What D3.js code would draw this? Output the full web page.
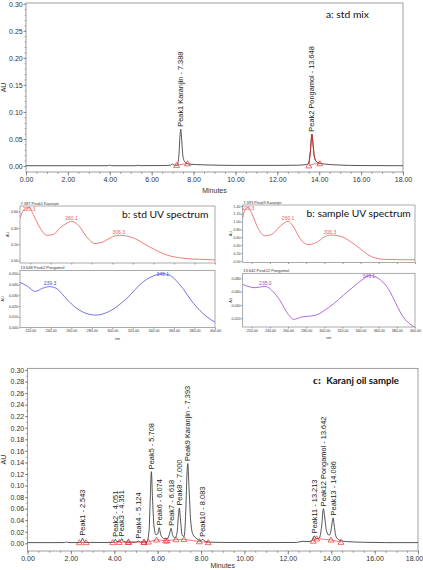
<!DOCTYPE html>
<html>
<head>
<meta charset="utf-8">
<script src="https://cdn.jsdelivr.net/npm/d3@7"></script>
<style>
body { margin: 0; background: #fff; }
svg { display: block; font-family: "Liberation Sans", Arial, sans-serif; }
.axis path, .axis line { stroke: #555; stroke-width: 0.6; }
.axis text { fill: #333; }
</style>
</head>
<body>
<div id="chart"></div>
<script>
// ---------- data ----------
// chromatogram ticks
const chromXTicks = [0, 2, 4, 6, 8, 10, 12, 14, 16, 18];
const stdYTicks = [0, 0.05, 0.10, 0.15, 0.20, 0.25, 0.30];
const sampleYTicks = [0, 0.02, 0.04, 0.06, 0.08, 0.10, 0.12, 0.14, 0.16, 0.18, 0.20, 0.22, 0.24, 0.26, 0.28, 0.30];

// a: std mix trace [minutes, AU]
const stdTrace = [
    [0, 0.0006], [1, 0.0006], [2, 0.0006], [3.9, 0.0006], [4.0, 0.0016], [4.1, 0.0006],
    [5.25, 0.0006], [5.35, 0.0016], [5.45, 0.0007], [6.5, 0.0009], [6.9, 0.0016], [7.0, 0.004],
    [7.08, 0.0016], [7.22, 0.0016], [7.3, 0.02], [7.35, 0.055], [7.39, 0.068], [7.43, 0.05],
    [7.5, 0.016], [7.6, 0.007], [7.8, 0.0035], [8.5, 0.0022], [10, 0.0012], [12, 0.0012],
    [13.0, 0.0016], [13.4, 0.003], [13.5, 0.005], [13.58, 0.028], [13.65, 0.059], [13.7, 0.042],
    [13.76, 0.019], [13.85, 0.009], [14.0, 0.0055], [14.3, 0.0035], [15, 0.0018], [16, 0.0009], [18, 0.0006]
];
const stdPeakNames = ['Peak1 Karanjin', 'Peak2 Pongamol'];
const stdPeakTimes = [7.388, 13.648];
const stdPeakHeights = [0.068, 0.059];
const stdMarks = [[7.19, 0.0016], [7.71, 0.0045], [13.50, 0.0006], [14.03, 0.0045]];
const stdBaselines = [[[7.19, 0.0016], [7.71, 0.0045]], [[13.50, 0.0006], [13.75, 0.004], [14.03, 0.0045]]];
const stdRedWindow = [13.45, 14.05];

// c: Karanj oil sample trace [minutes, AU]
const sampleTrace = [
    [0, 0.0012], [1.0, 0.0012], [1.7, 0.0013], [1.8, 0.0022], [1.9, 0.0013],
    [2.4, 0.0013], [2.48, 0.004], [2.54, 0.009], [2.6, 0.004], [2.7, 0.0015],
    [3.9, 0.0015], [4.0, 0.004], [4.05, 0.007], [4.12, 0.003], [4.28, 0.004], [4.35, 0.008], [4.42, 0.003], [4.6, 0.002],
    [5.0, 0.002], [5.12, 0.004], [5.22, 0.002],
    [5.5, 0.0025], [5.6, 0.02], [5.66, 0.08], [5.71, 0.124], [5.76, 0.08], [5.83, 0.03], [5.92, 0.015],
    [6.0, 0.016], [6.07, 0.027], [6.14, 0.015], [6.3, 0.008], [6.45, 0.008],
    [6.55, 0.017], [6.62, 0.026], [6.69, 0.014], [6.8, 0.009], [6.9, 0.02], [6.95, 0.045], [7.0, 0.061],
    [7.05, 0.042], [7.13, 0.014], [7.22, 0.012],
    [7.3, 0.06], [7.35, 0.12], [7.39, 0.138], [7.44, 0.10], [7.52, 0.04], [7.62, 0.016], [7.8, 0.008],
    [8.0, 0.005], [8.08, 0.007], [8.16, 0.004], [8.4, 0.002],
    [9.0, 0.0015], [11.0, 0.0013], [12.4, 0.0015], [12.6, 0.003], [12.7, 0.0035], [12.85, 0.003],
    [13.1, 0.004], [13.21, 0.013], [13.3, 0.008], [13.45, 0.009], [13.56, 0.03], [13.64, 0.06],
    [13.7, 0.045], [13.78, 0.022], [13.9, 0.014], [13.98, 0.02], [14.05, 0.038], [14.09, 0.044],
    [14.14, 0.03], [14.22, 0.012], [14.4, 0.005], [14.7, 0.003], [15.5, 0.0018], [16.5, 0.0012], [18, 0.0012]
];
const samplePeakNames = ['Peak1', 'Peak2', 'Peak3', 'Peak4', 'Peak5', 'Peak6', 'Peak7', 'Peak8',
    'Peak9 Karanjin', 'Peak10', 'Peak11', 'Peak12 Pongamol', 'Peak13'];
const samplePeakTimes = [2.543, 4.051, 4.351, 5.124, 5.708, 6.074, 6.618, 7.000, 7.393, 8.083, 13.213, 13.642, 14.086];
const samplePeakHeights = [0.009, 0.007, 0.008, 0.004, 0.124, 0.027, 0.026, 0.061, 0.138, 0.007, 0.013, 0.060, 0.044];
const sampleBaselines = [
    [[2.39, 0.0013], [2.70, 0.0015]],
    [[3.93, 0.0015], [4.23, 0.0018], [4.65, 0.002]],
    [[4.65, 0.002], [5.37, 0.002]],
    [[5.37, 0.002], [5.57, 0.0025], [5.95, 0.006], [6.37, 0.0045], [6.44, 0.0045], [6.84, 0.0065], [7.21, 0.007], [7.92, 0.003], [8.33, 0.0015]],
    [[13.17, 0.004], [13.33, 0.008], [13.99, 0.006], [14.45, 0.002]]
];

// b: UV spectra [nm, AU]
const specTicks = [220, 240, 260, 280, 300, 320, 340, 360, 380, 400];
const stdKaranjinSpec = [
    [210, 0.52], [212.6, 0.60], [216.5, 0.64], [219, 0.65], [223, 0.56], [229.5, 0.40], [236, 0.31],
    [242.5, 0.32], [249, 0.40], [256, 0.46], [260, 0.48], [267, 0.43], [275, 0.29], [283, 0.21],
    [291, 0.23], [300, 0.29], [306, 0.31], [312, 0.305], [320, 0.28], [336, 0.17], [353, 0.07],
    [369, 0.03], [385, 0.017], [400, 0.01]
];
const stdKaranjinLabels = [[219, 0.65, '220.3'], [260.1, 0.48, '260.1'], [306.3, 0.31, '306.3']];
const stdPongamolSpec = [
    [210, 0.042], [217, 0.0385], [225, 0.0335], [232, 0.0365], [239, 0.038], [246, 0.036],
    [253, 0.029], [260, 0.022], [271, 0.0145], [284, 0.0115], [297, 0.015], [314, 0.027],
    [330, 0.0425], [343, 0.049], [349, 0.050], [355, 0.049], [366, 0.0395], [379, 0.0225],
    [392, 0.010], [400, 0.005]
];
const stdPongamolLabels = [[239.3, 0.038, '239.3'], [349.1, 0.050, '349.1']];
const sampleKaranjinSpec = [
    [210, 1.09], [212.5, 1.30], [216, 1.36], [220, 1.21], [227, 0.83], [234.5, 0.64], [242, 0.68],
    [253, 0.92], [260, 1.01], [266, 0.87], [273, 0.58], [282, 0.42], [291.5, 0.47], [300.5, 0.62],
    [307, 0.66], [319, 0.62], [334, 0.41], [352, 0.11], [367, 0.04], [380, 0.035], [400, 0.03]
];
const sampleKaranjinLabels = [[216, 1.36, '220.3'], [260.1, 1.01, '260.1'], [306.3, 0.66, '306.3']];
const samplePongamolSpec = [
    [210, 0.071], [223.5, 0.066], [234.5, 0.068], [249, 0.051], [262, 0.023], [266, 0.0185],
    [275, 0.022], [290, 0.0245], [304.5, 0.036], [326.5, 0.061], [343, 0.079], [350, 0.0845],
    [357, 0.082], [367, 0.071], [389, 0.0185], [400, 0.006]
];
const samplePongamolLabels = [[235.0, 0.068, '235.0'], [349.1, 0.0845, '349.1']];

// ---------- drawing ----------
const W = 423, H = 570;
const svg = d3.select('#chart').append('svg')
    .attr('width', W)
    .attr('height', H);
svg.append('rect').attr('width', W).attr('height', H).attr('fill', '#fff');

const RED = '#e02424';
let clipId = 0;

function styleAxis(sel, size) {
    sel.attr('font-size', size).attr('font-family', null);
    sel.select('.domain').remove();
}

function drawChrom(o) {
    const x = d3.scaleLinear().domain([0, 18]).range([o.left, o.right]);
    const y = d3.scaleLinear().domain(o.yDomain).range([o.bottom, o.top]);
    const g = svg.append('g');

    // y axis + minor ticks
    g.append('g').attr('class', 'axis')
        .attr('transform', `translate(${o.left},0)`)
        .call(d3.axisLeft(y).tickValues(o.yTicks).tickFormat(d3.format('.2f')).tickSize(2.5).tickPadding(0.8))
        .call(s => styleAxis(s, 7));
    g.append('g').attr('class', 'axis')
        .attr('transform', `translate(${o.left},0)`)
        .call(d3.axisLeft(y).tickValues(o.yMinor).tickFormat('').tickSize(1.3))
        .call(s => styleAxis(s, 7));

    // x axis + minor ticks
    const xAxis = g.append('g').attr('class', 'axis')
        .attr('transform', `translate(0,${o.bottom})`)
        .call(d3.axisBottom(x).tickValues(chromXTicks).tickFormat(d3.format('.2f')).tickSize(3.5).tickPadding(1.2))
        .call(s => styleAxis(s, 7));
    // keep the last label inside the page
    xAxis.selectAll('.tick text')
        .filter(d => x(d) + 9 > W)
        .attr('dx', d => W - 0.5 - (x(d) + 8.5));
    g.append('g').attr('class', 'axis')
        .attr('transform', `translate(0,${o.bottom})`)
        .call(d3.axisBottom(x).tickValues(d3.range(0, 18.01, 0.5)).tickFormat('').tickSize(1.8))
        .call(s => styleAxis(s, 7));

    // frame
    g.append('rect')
        .attr('x', o.left).attr('y', o.top)
        .attr('width', o.right - o.left).attr('height', o.bottom - o.top)
        .attr('fill', 'none').attr('stroke', '#777').attr('stroke-width', 0.7);

    // axis titles
    g.append('text')
        .attr('transform', `translate(6,${(o.top + o.bottom) / 2}) rotate(-90)`)
        .attr('text-anchor', 'middle')
        .attr('font-size', 7).attr('fill', '#333')
        .text('AU');
    g.append('text')
        .attr('x', (o.left + o.right) / 2).attr('y', o.bottom + o.minutesDy)
        .attr('text-anchor', 'middle')
        .attr('font-size', 7).attr('fill', '#333')
        .text('Minutes');

    const line = d3.line()
        .x(d => x(d[0]))
        .y(d => y(d[1]))
        .curve(d3.curveMonotoneX);

    // trace
    g.append('path')
        .datum(o.trace)
        .attr('d', line)
        .attr('fill', 'none')
        .attr('stroke', '#2a2a2a')
        .attr('stroke-width', 0.8)
        .attr('stroke-linejoin', 'round');

    // red peak segment (std only)
    if (o.redWindow) {
        g.append('path')
            .datum(o.trace.filter(d => d[0] >= o.redWindow[0] && d[0] <= o.redWindow[1]))
            .attr('d', line)
            .attr('fill', 'none')
            .attr('stroke', RED)
            .attr('stroke-width', 0.9);
    }

    // integration baselines
    o.baselines.forEach(seg => {
        g.append('path')
            .datum(seg)
            .attr('d', d3.line().x(d => x(d[0])).y(d => y(d[1])))
            .attr('fill', 'none')
            .attr('stroke', RED)
            .attr('stroke-width', 0.6);
    });

    // triangle markers at peak start / end
    const marks = o.marks || [].concat(...o.baselines);
    g.selectAll('.mark')
        .data(marks)
        .enter()
        .append('path')
        .attr('d', d3.symbol().type(d3.symbolTriangle).size(15))
        .attr('transform', d => `translate(${x(d[0])},${y(d[1]) + 0.5})`)
        .attr('fill', 'none')
        .attr('stroke', RED)
        .attr('stroke-width', 0.65);

    // peak labels
    o.names.forEach((name, i) => {
        const px = x(o.times[i]);
        const py = y(o.heights[i]) - 2.5;
        g.append('text')
            .attr('transform', `translate(${px},${py}) rotate(-90)`)
            .attr('dy', '0.35em')
            .attr('font-size', 7.4)
            .attr('fill', '#222')
            .text(`${name} - ${d3.format('.3f')(o.times[i])}`);
    });
}

function drawSpec(o) {
    const x = d3.scaleLinear().domain([210, 400]).range([o.left, o.right]);
    const y = d3.scaleLinear().domain(o.yDomain).range([o.bottom, o.top]);
    const g = svg.append('g');
    const id = 'clip' + (clipId++);

    g.append('clipPath').attr('id', id)
        .append('rect')
        .attr('x', o.left).attr('y', o.top)
        .attr('width', o.right - o.left).attr('height', o.bottom - o.top);

    g.append('g').attr('class', 'axis')
        .attr('transform', `translate(${o.left},0)`)
        .call(d3.axisLeft(y).tickValues(o.yTicks).tickFormat(d3.format(o.yFormat)).tickSize(1.5).tickPadding(0.6))
        .call(s => styleAxis(s, 3.6));

    g.append('g').attr('class', 'axis')
        .attr('transform', `translate(0,${o.bottom})`)
        .call(d3.axisBottom(x).tickValues(specTicks).tickFormat(o.xLabels ? d3.format('.2f') : '').tickSize(1.5).tickPadding(0.8))
        .call(s => styleAxis(s, 3.6));

    g.append('rect')
        .attr('x', o.left).attr('y', o.top)
        .attr('width', o.right - o.left).attr('height', o.bottom - o.top)
        .attr('fill', 'none').attr('stroke', '#888').attr('stroke-width', 0.7);

    if (o.xLabels) {
        g.append('text')
            .attr('x', (o.left + o.right) / 2).attr('y', o.bottom + 12)
            .attr('text-anchor', 'middle')
            .attr('font-size', 3.6).attr('fill', '#333')
            .text('nm');
    }

    g.append('text')
        .attr('transform', `translate(${o.auX},${(o.top + o.bottom) / 2}) rotate(-90)`)
        .attr('text-anchor', 'middle')
        .attr('font-size', 3.6).attr('fill', '#333')
        .text('AU');

    g.append('text')
        .attr('x', o.left + 0.5).attr('y', o.top - 1.5)
        .attr('font-size', 4).attr('fill', '#333')
        .text(o.title);

    g.append('path')
        .datum(o.data)
        .attr('clip-path', `url(#${id})`)
        .attr('d', d3.line().x(d => x(d[0])).y(d => y(d[1])).curve(d3.curveMonotoneX))
        .attr('fill', 'none')
        .attr('stroke', o.color)
        .attr('stroke-width', 0.8);

    o.labels.forEach(l => {
        g.append('text')
            .attr('x', x(l[0]))
            .attr('y', Math.max(y(l[1]) - 1.5, o.top + 5))
            .attr('text-anchor', 'middle')
            .attr('font-size', 5)
            .attr('fill', o.color)
            .text(l[2]);
    });
}

// a: std mix
drawChrom({
    left: 26, right: 403, top: 3, bottom: 172, minutesDy: 20.5,
    yDomain: [-0.011, 0.3014], yTicks: stdYTicks, yMinor: d3.range(0, 0.3001, 0.01),
    trace: stdTrace, names: stdPeakNames, times: stdPeakTimes, heights: stdPeakHeights,
    baselines: stdBaselines, marks: stdMarks, redWindow: stdRedWindow
});

// b: spectra
drawSpec({
    left: 20, right: 215, top: 206, bottom: 263,
    yDomain: [-0.028, 0.667], yTicks: [0, 0.2, 0.4, 0.6], yFormat: '.2f',
    data: stdKaranjinSpec, labels: stdKaranjinLabels, color: '#ec5a5a',
    title: '7.387 Peak1 Karanjin', auX: 9, xLabels: false
});
drawSpec({
    left: 20, right: 215, top: 270.5, bottom: 327.5,
    yDomain: [0, 0.053], yTicks: [0, 0.01, 0.02, 0.03, 0.04, 0.05], yFormat: '.3f',
    data: stdPongamolSpec, labels: stdPongamolLabels, color: '#5050dc',
    title: '13.648 Peak2 Pongamol', auX: 4, xLabels: true
});
drawSpec({
    left: 242.7, right: 415, top: 205, bottom: 262.5,
    yDomain: [-0.038, 1.425], yTicks: [0, 0.2, 0.4, 0.6, 0.8, 1.0, 1.2, 1.4], yFormat: '.2f',
    data: sampleKaranjinSpec, labels: sampleKaranjinLabels, color: '#ec5a5a',
    title: '7.393 Peak9 Karanjin', auX: 232, xLabels: false
});
drawSpec({
    left: 242.7, right: 415, top: 273.3, bottom: 327,
    yDomain: [0.007, 0.0876], yTicks: [0.02, 0.04, 0.06, 0.08], yFormat: '.3f',
    data: samplePongamolSpec, labels: samplePongamolLabels, color: '#a046c8',
    title: '13.642 Peak12 Pongamol', auX: 232, xLabels: true
});

// c: Karanj oil sample
drawChrom({
    left: 27.5, right: 418, top: 368.3, bottom: 551, minutesDy: 17.3,
    yDomain: [-0.0133, 0.3029], yTicks: sampleYTicks, yMinor: d3.range(0, 0.3001, 0.01),
    trace: sampleTrace, names: samplePeakNames, times: samplePeakTimes, heights: samplePeakHeights,
    baselines: sampleBaselines
});

// panel captions
svg.append('text')
    .attr('x', 326).attr('y', 17.5)
    .attr('font-family', 'Lato, "Open Sans", sans-serif')
    .attr('font-size', 10.3).attr('fill', '#111')
    .text('a: std mix');
svg.append('text')
    .attr('x', 122).attr('y', 218.3)
    .attr('font-family', 'Lato, "Open Sans", sans-serif')
    .attr('font-size', 10.3).attr('fill', '#111')
    .text('b: std UV spectrum');
svg.append('text')
    .attr('x', 306.5).attr('y', 216.5)
    .attr('font-family', 'Lato, "Open Sans", sans-serif')
    .attr('font-size', 10.3).attr('fill', '#111')
    .text('b: sample UV spectrum');
const cap = svg.append('text')
    .attr('x', 313).attr('y', 384)
    .attr('font-weight', 'bold')
    .attr('fill', '#111');
cap.append('tspan')
    .attr('font-family', '"Liberation Serif", "DejaVu Serif", serif')
    .attr('font-size', 10.5)
    .text('c:');
cap.append('tspan')
    .attr('dx', 5)
    .attr('font-family', 'Lato, "Open Sans", sans-serif')
    .attr('font-size', 9.6)
    .text('Karanj oil sample');
</script>
</body>
</html>
